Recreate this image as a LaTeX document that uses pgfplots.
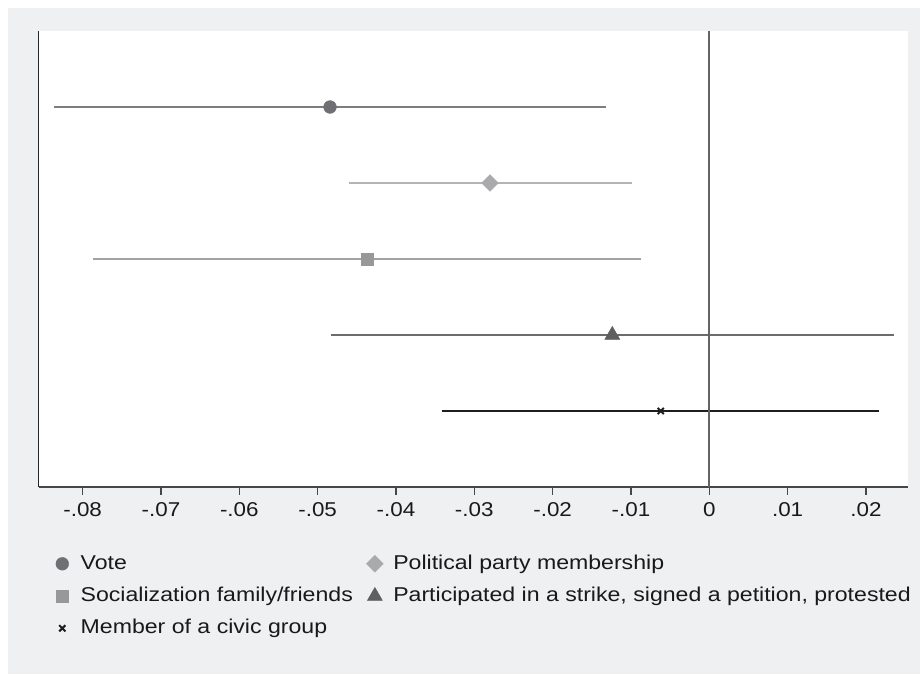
\documentclass[border=0pt]{standalone}
\usepackage{pgfplots}
\pgfplotsset{compat=1.18}
\usepackage{fontspec}
\setmainfont{Liberation Sans}[FakeStretch=1.12]
\newfontfamily\legfont{Liberation Sans}[FakeStretch=1.155]
\definecolor{bgc}{RGB}{239,240,242}
\definecolor{cVote}{RGB}{112,112,116}
\definecolor{cVoteL}{RGB}{125,125,128}
\definecolor{cParty}{RGB}{170,170,172}
\definecolor{cPartyL}{RGB}{180,180,182}
\definecolor{cSoc}{RGB}{152,152,155}
\definecolor{cSocL}{RGB}{162,162,165}
\definecolor{cStr}{RGB}{95,95,97}
\definecolor{cStrL}{RGB}{108,108,110}
\definecolor{cCiv}{RGB}{30,30,30}
\definecolor{cZero}{RGB}{100,100,100}
\begin{document}
\begin{tikzpicture}
\path (0,0) rectangle (460pt,337pt);
\fill[bgc] (4pt,0) rectangle (460pt,333pt);
\begin{axis}[
  at={(19.35pt,93.5pt)}, anchor=south west, scale only axis,
  width=434.65pt, height=228pt,
  xmin=-0.08561, xmax=0.02537, ymin=0, ymax=6,
  axis x line=bottom, axis y line=left,
  axis line style={-},
  x axis line style={-, draw=black!72, line width=1pt},
  y axis line style={-, draw=black!85, line width=0.6pt},
  axis background/.style={fill=white},
  ytick=\empty,
  scaled x ticks=false,
  xtick={-0.08,-0.07,-0.06,-0.05,-0.04,-0.03,-0.02,-0.01,0,0.01,0.02},
  xticklabels={-.08,-.07,-.06,-.05,-.04,-.03,-.02,-.01,0,.01,.02},
  tick align=outside, major tick length=4pt,
  x tick style={draw=black!72, line width=0.6pt},
  xticklabel style={font=\fontsize{10}{12}\selectfont, text=black!90},
  /pgf/number format/assume math mode=true,
  legend columns=2, legend cell align=left,
  legend style={draw=none, fill=none, inner sep=0pt, outer sep=0pt,
    font=\legfont\fontsize{10}{12}\selectfont, text=black!90,
    at={(axis description cs:0.01564,-0.1454)}, anchor=north west,
    nodes={inner sep=0pt, text height=8pt, text depth=2.5pt},
    row sep=5.625pt,
    /tikz/every odd column/.append style={column sep=4.2pt},
    /tikz/every even column/.append style={column sep=6pt}},
  legend image code/.code={\path[draw=none,fill=none] (-5pt,-3pt) rectangle (5pt,5pt); \draw[#1] plot coordinates {(0pt,0pt)};},
]
% confidence intervals
\addplot[cVoteL, line width=1pt, forget plot] coordinates {(-0.0837,5) (-0.01319,5)};
\addplot[cPartyL, line width=1pt, forget plot] coordinates {(-0.0460,4) (-0.00991,4)};
\addplot[cSocL, line width=1pt, forget plot] coordinates {(-0.0787,3) (-0.00872,3)};
\addplot[cStrL, line width=1pt, forget plot] coordinates {(-0.0483,2) (0.02354,2)};
\addplot[cCiv, line width=1pt, forget plot] coordinates {(-0.03416,1) (0.02166,1)};
% zero line
\addplot[cZero, line width=1.1pt, forget plot] coordinates {(0,0) (0,6)};
% point estimates
\addplot[only marks, mark=*, mark size=3.2pt, color=cVote, mark options={line width=0.2pt}] coordinates {(-0.04842,5)};
\addlegendentry{Vote}
\addplot[only marks, mark=square*, mark size=2.97pt, color=cParty, mark options={rotate=45, line width=0.2pt}] coordinates {(-0.0280,4)};
\addlegendentry{Political party membership}
\addplot[only marks, mark=square*, mark size=3.1pt, color=cSoc, mark options={line width=0.2pt}] coordinates {(-0.04366,3)};
\addlegendentry{Socialization family/friends}
\addplot[only marks, mark=triangle*, mark size=4.33pt, color=cStr, mark options={line width=0.2pt}] coordinates {(-0.01238,2)};
\addlegendentry{Participated in a strike, signed a petition, protested}
\addplot[only marks, mark=x, mark size=2.2pt, color=cCiv, mark options={line width=1pt}] coordinates {(-0.0062,1)};
\addlegendentry{Member of a civic group}
\end{axis}
\end{tikzpicture}
\end{document}
